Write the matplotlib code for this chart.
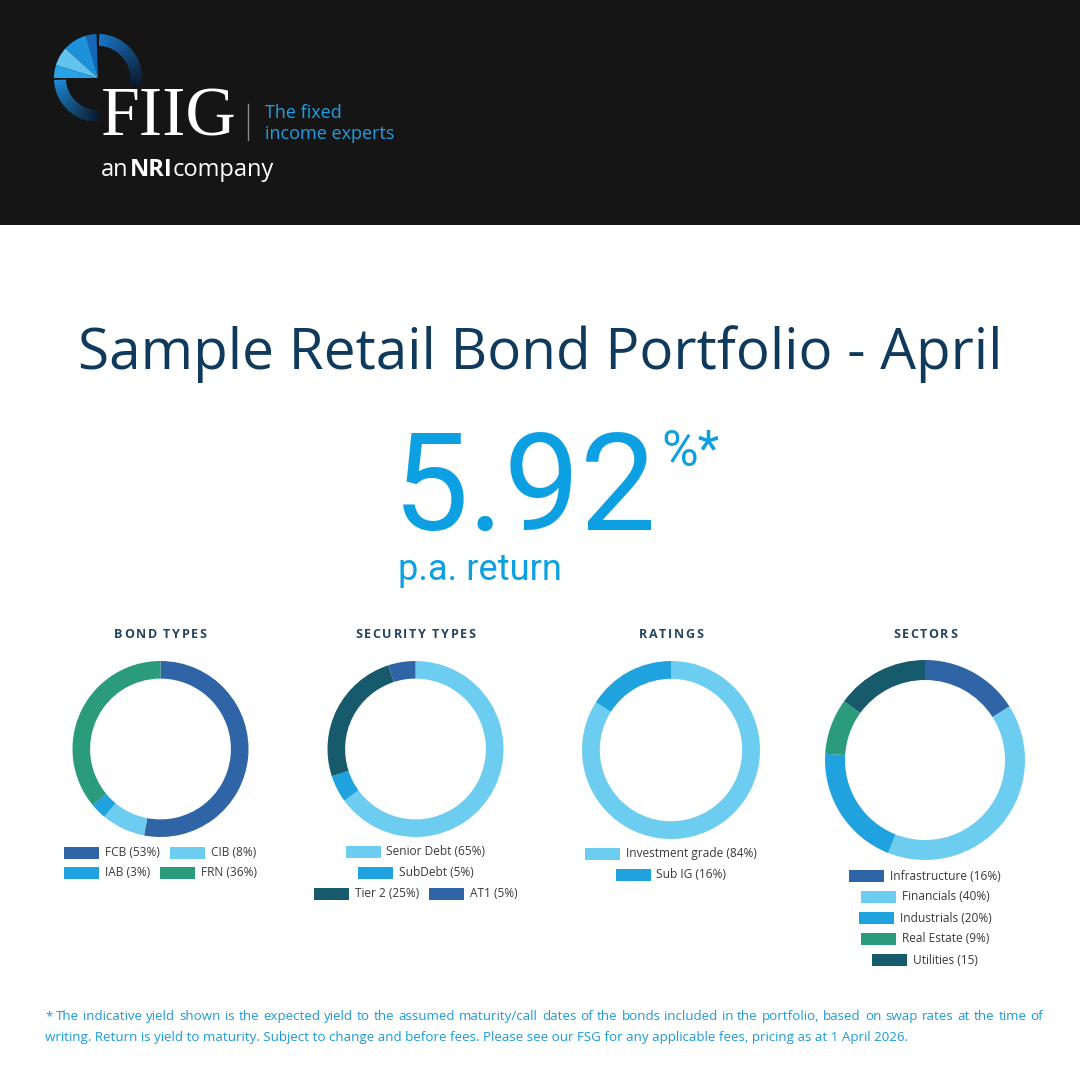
import numpy as np
import matplotlib
matplotlib.use('Agg')
import matplotlib.pyplot as plt
from matplotlib.patches import Rectangle, Wedge
from matplotlib.colors import to_rgb

# ---- data ----
bond_labels = ['FCB', 'CIB', 'IAB', 'FRN']
bond_values = [53, 8, 3, 36]
security_labels = ['Senior Debt', 'SubDebt', 'Tier 2', 'AT1']
security_values = [65, 5, 25, 5]
rating_labels = ['Investment grade', 'Sub IG']
rating_values = [84, 16]
sector_labels = ['Infrastructure', 'Financials', 'Industrials', 'Real Estate', 'Utilities']
sector_values = [16, 40, 20, 9, 15]
sector_suffix = ['%', '%', '%', '%', '']   # "Utilities (15)" has no % in the original
headline_yield = 5.92

title = 'Sample Retail Bond Portfolio - April'
footnote_1 = ('* The indicative yield shown is the expected yield to the assumed maturity/call dates of the bonds '
              'included in the portfolio, based on swap rates at the time of')
footnote_2 = ('writing. Return is yield to maturity. Subject to change and before fees. Please see our FSG for '
              'any applicable fees, pricing as at 1 April 2026.')

# colours
DARK_BLUE = '#2f64a6'
LIGHT_BLUE = '#6dcdf0'
MID_BLUE = '#1fa2dd'
GREEN = '#2a9b7b'
TEAL = '#165a6c'
NAVY = '#0f3a5c'
BRIGHT = '#0ca0e3'

W = H = 1080
fig = plt.figure(figsize=(10.8, 10.8), dpi=100)
fig.patch.set_facecolor('white')
ax = fig.add_axes([0, 0, 1, 1])
ax.set_xlim(0, W)
ax.set_ylim(H, 0)
ax.axis('off')
renderer = fig.canvas.get_renderer()


def width_of(t):
    return t.get_window_extent(renderer).width


def fit(t, target):
    t.set_fontsize(t.get_fontsize() * target / width_of(t))
    return t


def spaced(cx, y, s, spacing, **kw):
    # centred text with a bit of letter spacing, drawn a character at a time
    chars = [ax.text(0, y, c, va='center', ha='left', **kw) for c in s]
    ws = [width_of(c) if c.get_text() != ' ' else kw.get('fontsize', 10) * 0.35 for c in chars]
    x = cx - (sum(ws) + spacing * (len(s) - 1)) / 2
    for c, w in zip(chars, ws):
        c.set_x(x)
        x += w + spacing


# ---- header band + logo ----
ax.add_patch(Rectangle((0, 0), W, 225, color='#151515', lw=0))

lax = fig.add_axes([54 / W, 1 - 122 / H, 88 / W, 88 / H])
lax.set_xlim(-1, 1)
lax.set_ylim(-1, 1)
lax.axis('off')


def grad_arc(a0, a1, c0, c1, r=1.0, w=0.27, n=40):
    angs = np.linspace(a0, a1, n + 1)
    c0, c1 = np.array(to_rgb(c0)), np.array(to_rgb(c1))
    for k in range(n):
        f = k / (n - 1)
        lax.add_patch(Wedge((0, 0), r, min(angs[k], angs[k + 1]) - 0.3, max(angs[k], angs[k + 1]) + 0.3,
                            width=w, color=c0 + (c1 - c0) * f, lw=0))


grad_arc(88, -12, '#1877c8', '#0b1a2c')
grad_arc(183, 272, '#1b8ad6', '#0b1a2c')
for a0, a1, c in [(92, 106, '#1466b8'), (106, 138, '#1d92da'), (138, 163, '#62c4ee'), (163, 180, '#28a4e6')]:
    lax.add_patch(Wedge((0, 0), 1.0, a0, a1, color=c, lw=0))

fiig = ax.text(101, 136, 'FIIG', family='Liberation Serif', fontsize=50, color='white', va='baseline')
fit(fiig, 136)
ax.plot([248, 248], [104, 140], color='#8a8a8a', lw=1)
ax.text(265, 118, 'The fixed', family='Open Sans', fontsize=13, color='#1f9fe0', va='baseline')
ax.text(265, 139, 'income experts', family='Open Sans', fontsize=13, color='#1f9fe0', va='baseline')

x = 101
for s, wt in [('an', 'normal'), ('NRI', 'bold'), ('company', 'normal')]:
    t = ax.text(x, 176, s, family='Open Sans', fontsize=17, weight=wt, color='white', va='baseline')
    x += width_of(t) + (1 if s == 'an' else 0)

# ---- title and headline yield ----
tt = ax.text(540, 369, title, family='Open Sans', fontsize=44, color=NAVY, ha='center', va='baseline')
fit(tt, 924)

big = ax.text(393, 530, f'{headline_yield:.2f}', family='Roboto', fontsize=100,
              color=BRIGHT, va='baseline')
fit(big, 264)
bx = 393 + width_of(big)
ax.text(bx + 4, 466, '%*', family='Roboto', fontsize=36, color=BRIGHT, va='baseline')
pa = ax.text(398, 580, 'p.a. return', family='Roboto', fontsize=23, color=BRIGHT, va='baseline')
fit(pa, 165)

# ---- donuts ----
SW, SG, GAP = 35, 6, 10


def donut(name, labels, values, colors, cx, cy, r, rows, y0, row_gap, suffix=None):
    pax = fig.add_axes([(cx - r) / W, 1 - (cy + r) / H, 2 * r / W, 2 * r / H])
    pax.pie(values, colors=colors, startangle=90, counterclock=False,
            wedgeprops=dict(width=0.2, linewidth=0))
    pax.set_xlim(-1, 1)
    pax.set_ylim(-1, 1)
    pax.axis('off')
    spaced(cx, 634, name, 1.6, family='Open Sans', weight='bold', fontsize=9, color='#24445f')
    suffix = suffix or ['%'] * len(values)
    for k, idxs in enumerate(rows):
        y = y0 + k * row_gap
        items = []
        for i in idxs:
            t = ax.text(0, y, f'{labels[i]} ({values[i]}{suffix[i]})', family='Open Sans',
                        fontsize=8.6, color='#3a3a3a', va='center', ha='left')
            items.append((i, t, width_of(t)))
        total = sum(SW + SG + w for _, _, w in items) + GAP * (len(items) - 1)
        x = cx - total / 2
        for i, t, w in items:
            ax.add_patch(Rectangle((x, y - 6), SW, 12, color=colors[i], lw=0))
            t.set_x(x + SW + SG)
            x += SW + SG + w + GAP


donut('BOND TYPES', bond_labels, bond_values, [DARK_BLUE, LIGHT_BLUE, MID_BLUE, GREEN],
      160.5, 749, 88, [[0, 1], [2, 3]], 853, 20)
donut('SECURITY TYPES', security_labels, security_values, [LIGHT_BLUE, MID_BLUE, TEAL, DARK_BLUE],
      415.5, 749, 88, [[0], [1], [2, 3]], 851.5, 21)
donut('RATINGS', rating_labels, rating_values, [LIGHT_BLUE, MID_BLUE],
      671, 750, 89, [[0], [1]], 854, 21)
donut('SECTORS', sector_labels, sector_values, [DARK_BLUE, LIGHT_BLUE, MID_BLUE, GREEN, TEAL],
      925, 760, 100, [[0], [1], [2], [3], [4]], 876, 21, sector_suffix)

# ---- footnote (first line justified) ----
FOOT = dict(family='Open Sans', color='#1b9bd9', va='baseline')
words = footnote_1.split(' ')
wts = [ax.text(0, 1020, wd, fontsize=10, **FOOT) for wd in words]
space_w = 10 * 0.26 * 100 / 72
nat = sum(width_of(t) for t in wts) + space_w * (len(words) - 1)
fs = 10 * 985 / nat
for t in wts:
    t.set_fontsize(fs)
ws = [width_of(t) for t in wts]
gap = (1043 - 45 - sum(ws)) / (len(words) - 1)
x = 45
for t, w in zip(wts, ws):
    t.set_x(x)
    x += w + gap
ax.text(45, 1041, footnote_2, fontsize=fs, **FOOT)

fig.savefig('out.png', dpi=100)
